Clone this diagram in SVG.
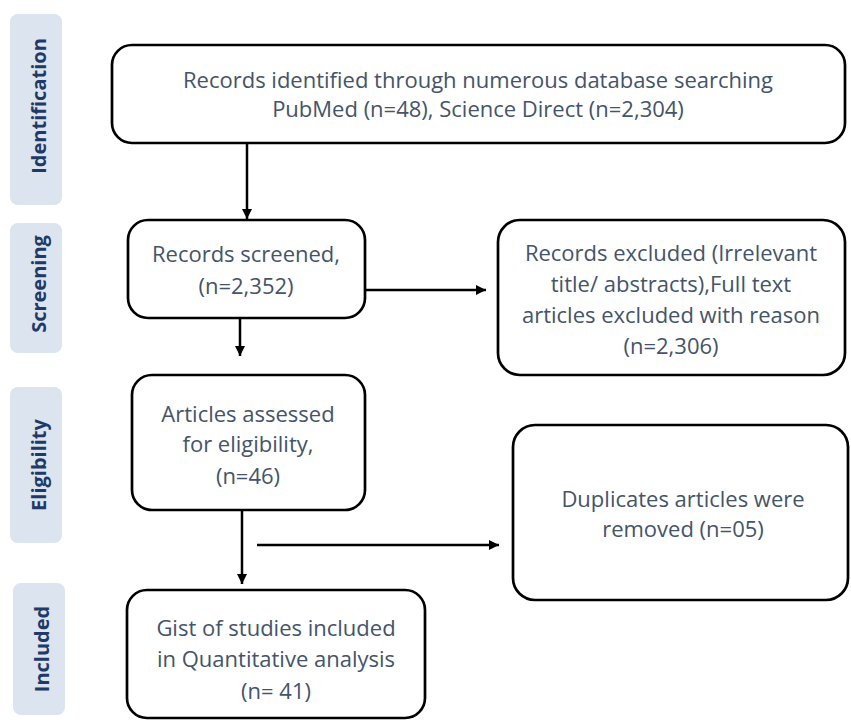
<svg xmlns="http://www.w3.org/2000/svg" width="851" height="722" viewBox="0 0 851 722">
<style>
.phase rect{fill:#dbe4ef;}
.phase text{font-family:"Open Sans","Noto Sans",sans-serif;font-weight:bold;font-size:20px;fill:#1f3a66;text-anchor:middle;dominant-baseline:central;}
.node rect{fill:#fff;stroke:#000;stroke-width:2.7;}
.node text{font-family:"Open Sans","Noto Sans",sans-serif;font-size:22px;fill:#44546a;text-anchor:middle;dominant-baseline:central;}
.conn line{stroke:#000;stroke-width:2.5;}
</style>
<defs>
<marker id="ah" viewBox="0 0 10 10" refX="10" refY="5" markerWidth="4" markerHeight="4" markerUnits="strokeWidth" orient="auto">
<path d="M0,0 L10,5 L0,10 z" fill="#000"/>
</marker>
</defs>
<rect width="851" height="722" fill="#fff"/>
<g id="phase-identification" class="phase"><rect x="10" y="14" width="52" height="191" rx="8"/><text transform="translate(38,106) rotate(-90)">Identification</text></g>
<g id="phase-screening" class="phase"><rect x="10" y="223" width="52" height="130" rx="8"/><text transform="translate(38,284) rotate(-90)">Screening</text></g>
<g id="phase-eligibility" class="phase"><rect x="10" y="387" width="52" height="156" rx="8"/><text transform="translate(38,465) rotate(-90)">Eligibility</text></g>
<g id="phase-included" class="phase"><rect x="13" y="583" width="52" height="132" rx="8"/><text transform="translate(41,649) rotate(-90)">Included</text></g>

<g id="conns" class="conn">
<line x1="247" y1="143" x2="247" y2="219" marker-end="url(#ah)"/>
<line x1="365" y1="290" x2="486" y2="290" marker-end="url(#ah)"/>
<line x1="240" y1="318" x2="240" y2="356" marker-end="url(#ah)"/>
<line x1="242" y1="510" x2="242" y2="584" marker-end="url(#ah)"/>
<line x1="257" y1="545" x2="499" y2="545" marker-end="url(#ah)"/>
</g>

<g id="n-identified" class="node"><rect x="112" y="45" width="733" height="98" rx="20"/>
<text x="478" y="79">Records identified through numerous database searching</text>
<text x="478" y="108">PubMed (n=48), Science Direct (n=2,304)</text></g>
<g id="n-screened" class="node"><rect x="128" y="220" width="237" height="98" rx="20"/>
<text x="246" y="253">Records screened,</text>
<text x="246" y="285">(n=2,352)</text></g>
<g id="n-excluded" class="node"><rect x="498" y="220" width="347" height="155" rx="22"/>
<text x="671" y="252">Records excluded (Irrelevant</text>
<text x="671" y="283">title/ abstracts),Full text</text>
<text x="671" y="314">articles excluded with reason</text>
<text x="671" y="345">(n=2,306)</text></g>
<g id="n-eligibility" class="node"><rect x="132" y="375" width="233" height="135" rx="20"/>
<text x="248" y="413">Articles assessed</text>
<text x="248" y="443">for eligibility,</text>
<text x="248" y="475">(n=46)</text></g>
<g id="n-duplicates" class="node"><rect x="513" y="425" width="335" height="175" rx="22"/>
<text x="683" y="498">Duplicates articles were</text>
<text x="683" y="528">removed (n=05)</text></g>
<g id="n-included" class="node"><rect x="127" y="590" width="298" height="128" rx="20"/>
<text x="276" y="627">Gist of studies included</text>
<text x="276" y="658">in Quantitative analysis</text>
<text x="276" y="690">(n= 41)</text></g>
</svg>
